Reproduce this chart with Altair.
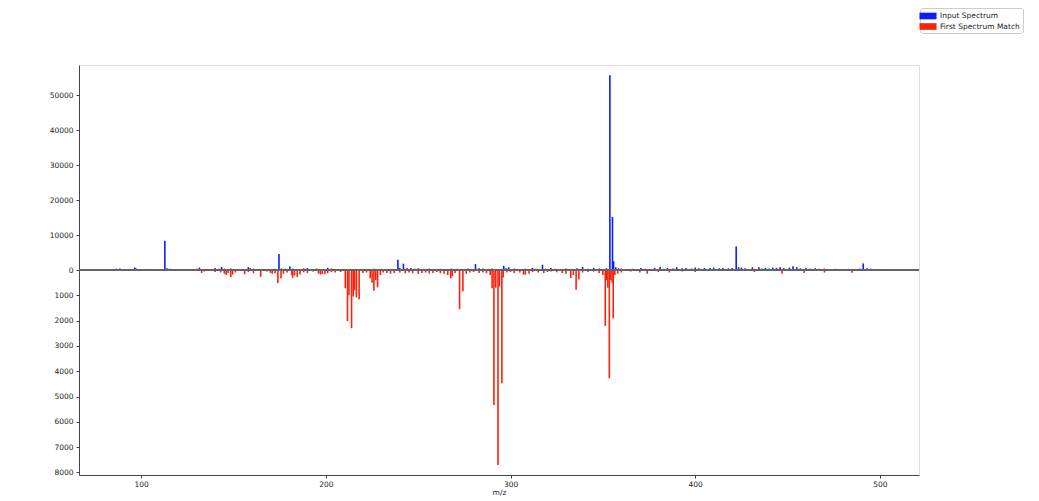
import altair as alt
import pandas as pd

# Input spectrum (blue, upper half)
input_mz = [86.5, 88.5, 96.5, 97.2, 103, 105, 111, 112.8, 114, 115.5, 117, 120, 125, 128, 130, 131.5, 133, 136,
            140, 142, 143.5, 145, 147, 148.5, 150, 152, 155, 158, 159, 161, 163, 166, 170, 172, 174.6, 176, 178,
            180.5, 182, 186, 188, 190, 192, 195, 198, 201, 203, 205, 207, 210, 213, 216, 219, 222, 226, 230, 233,
            236, 239, 240, 242, 244, 246, 248, 250, 253, 256, 259, 262, 265, 268, 271, 274, 277, 279, 281, 283,
            285, 288, 290, 293, 296.3, 297.5, 299, 302, 305, 308, 311.8, 314, 317.3, 319, 321.8, 324, 327, 330,
            333, 336, 339, 342, 345, 348, 350, 352, 353.8, 355.2, 355.8, 357, 358.5, 360, 363, 366, 368, 370.6,
            373, 376, 378, 381, 383, 385, 388, 390, 393, 395, 398, 400, 402, 405, 408, 410, 413, 415, 418, 420,
            422.2, 423.5, 425, 427, 429, 431, 434.5, 436, 438, 440, 442, 444, 446, 448, 451, 453, 455, 457, 460,
            462, 465, 467, 470, 473, 476, 480, 483, 486, 489, 491, 493, 495, 497, 500]
input_int = [400, 400, 700, 400, 300, 300, 300, 8400, 500, 350, 300, 200, 250, 300, 350, 700, 250, 300,
             600, 350, 900, 400, 300, 450, 250, 300, 250, 800, 500, 350, 250, 250, 300, 350, 4600, 450, 350,
             1000, 400, 300, 450, 550, 300, 400, 300, 650, 450, 300, 250, 300, 250, 300, 250, 300, 350, 300, 250,
             300, 2970, 600, 1820, 500, 600, 400, 500, 350, 400, 300, 350, 300, 400, 350, 300, 400, 350, 1700, 500,
             450, 350, 400, 300, 1200, 500, 800, 400, 300, 350, 600, 350, 1500, 400, 600, 350, 300, 400,
             300, 500, 900, 350, 600, 400, 300, 500, 55800, 15200, 2500, 800, 500, 400, 300, 350, 300, 600,
             350, 300, 600, 900, 350, 600, 400, 800, 500, 600, 400, 700, 500, 600, 550, 700, 500, 600, 500, 600,
             6700, 800, 700, 500, 300, 800, 800, 400, 600, 400, 700, 600, 800, 600, 700, 1100, 800, 500, 600,
             400, 500, 350, 400, 300, 350, 300, 350, 300, 400, 1900, 500, 400, 300, 300]

# First spectrum match (red, mirrored lower half)
match_mz = [132.7, 134, 140, 143, 145, 146, 147, 148.5, 149.5, 151, 156, 158, 160.8, 164.7, 168, 170, 171, 172.5,
            174, 175.7, 177, 179, 181.5, 182, 183, 184.5, 186, 188, 190, 193, 196, 197, 198, 199.5, 201, 203,
            205, 208, 210.5, 211.7, 212.5, 213.9, 214.8, 215.5, 216.5, 218, 220, 222, 224, 225, 226, 227, 228,
            229.5, 231, 233, 235, 237, 240, 243, 245, 247, 250, 252, 254, 256, 258, 260, 262, 264, 266, 267.6,
            268.4, 270, 272.4, 274.2, 276, 278, 280, 283, 285, 287, 289, 290, 291, 292, 293.2, 294, 295.3, 296,
            298, 300, 302, 305, 307, 308, 310, 312, 315, 318, 320, 322, 325, 328, 330, 332.6, 334, 335.5, 337,
            339, 342, 345, 348, 350, 351.3, 352, 352.7, 353.5, 354.2, 355, 355.6, 356.5, 358, 360, 365, 370, 374,
            380, 386, 393, 400, 432, 447, 459, 470, 485]
match_int = [120, 60, 80, 100, 150, 200, 120, 280, 180, 100, 170, 80, 130, 270, 60, 120, 150, 130,
             510, 340, 150, 100, 200, 310, 220, 280, 180, 90, 120, 60, 140, 180, 160, 170, 130, 80,
             100, 80, 725, 2015, 1000, 2300, 1050, 800, 1080, 1160, 120, 100, 330, 500, 815, 400, 685,
             200, 100, 120, 150, 120, 100, 130, 100, 130, 150, 120, 100, 140, 120, 80, 130, 150, 200, 330,
             250, 120, 1550, 840, 150, 100, 80, 120, 100, 130, 200, 720, 5330, 700, 7700, 650, 4475, 300,
             100, 80, 120, 100, 180, 184, 150, 80, 100, 120, 80, 60, 90, 120, 150, 316, 200, 777, 380,
             100, 80, 60, 120, 200, 2210, 400, 700, 4280, 400, 500, 1910, 200, 150, 100, 60, 100, 150,
             80, 100, 60, 80, 80, 145, 120, 100, 110]

series_names = ["Input Spectrum", "First Spectrum Match"]
series_colors = ["#0a1eff", "#ff200a"]
y_ticks = [-8000, -7000, -6000, -5000, -4000, -3000, -2000, -1000, 0, 10000, 20000, 30000, 40000, 50000]
x_ticks = [100, 200, 300, 400, 500]

df_in = pd.DataFrame({"mz": input_mz, "intensity": input_int, "series": series_names[0]})
df_match = pd.DataFrame({"mz": match_mz, "intensity": match_int, "series": series_names[1]})

FONT = "DejaVu Sans"
W, H = 840, 410
TXT = "#222222"
AX = "#444444"

# piecewise y scale: upper half for the input spectrum, lower half (mirrored) for the match
yscale = alt.Scale(domain=[-8100, 0, 58700], range=[H, H / 2, 0], nice=False, zero=False, padding=0)
xscale = alt.Scale(domain=[66.3, 521.2], nice=False, zero=False, padding=0)

color = alt.Color("series:N", scale=alt.Scale(domain=series_names, range=series_colors),
                  legend=alt.Legend(title=None, orient="none", legendX=841, legendY=-57,
                                    strokeColor="#cccccc", fillColor="white", cornerRadius=2,
                                    padding=3, labelFontSize=7.5, labelFont=FONT, labelColor=TXT,
                                    symbolType="M-1.8,-0.7H1.8V0.7H-1.8Z", symbolSize=90,
                                    symbolStrokeWidth=0, rowPadding=1.5, labelOffset=7))

xaxis = alt.Axis(values=x_ticks, title="m/z", grid=False, labelFontSize=7.5, labelFont=FONT,
                 labelColor=TXT, titleFontSize=7.5, titleFont=FONT, titleFontWeight="normal",
                 titleColor=TXT, tickSize=3, tickColor=AX, domainColor=AX,
                 labelPadding=2, titlePadding=1, labelOverlap=False)
yaxis = alt.Axis(values=y_ticks, title=None, grid=False, labelFontSize=7.5, labelFont=FONT,
                 labelColor=TXT, tickSize=3, tickColor=AX, domainColor=AX, labelPadding=3,
                 labelOverlap=False, labelExpr="format(abs(datum.value), 'd')")

top = alt.Chart(df_in).mark_bar(size=1.6).encode(
    x=alt.X("mz:Q", scale=xscale, axis=xaxis),
    y=alt.Y("intensity:Q", scale=yscale, axis=yaxis),
    y2=alt.datum(0),
    color=color,
)

bottom = alt.Chart(df_match).transform_calculate(
    neg="-datum.intensity"
).mark_bar(size=1.6).encode(
    x=alt.X("mz:Q", scale=xscale, axis=xaxis),
    y=alt.Y("neg:Q", scale=yscale, axis=yaxis),
    y2=alt.datum(0),
    color=color,
)

zero_line = alt.Chart(df_in).mark_rule(color="#666666", strokeWidth=0.8).encode(
    y=alt.YDatum(0, scale=yscale, axis=yaxis)
)

chart = alt.layer(top, bottom, zero_line).properties(
    width=W, height=H,
    autosize=alt.AutoSizeParams(type="none"),
    padding={"left": 71, "top": 57, "right": 112, "bottom": 26},
).configure_axis(labelOverlap=False).configure_view(stroke=AX, strokeWidth=1).configure(background="white")

chart.save("out.html", embed_options={"renderer": "svg", "actions": False})
